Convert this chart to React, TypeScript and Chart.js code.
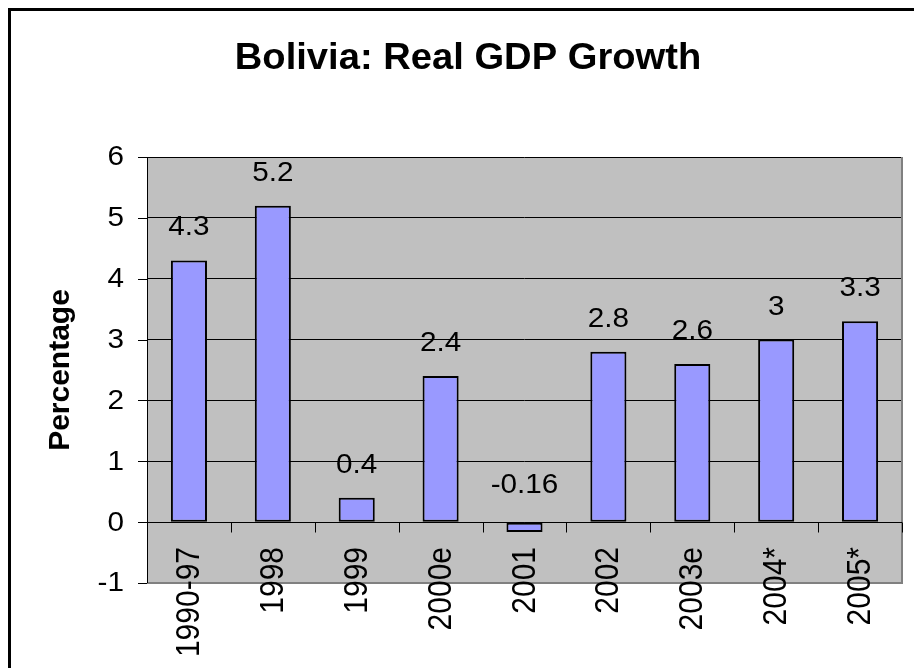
import React, { useEffect, useRef } from "react";
import { Chart, registerables } from "chart.js";

Chart.register(...registerables);

const chartTitle = "Bolivia: Real GDP Growth";
const yAxisTitle = "Percentage";
const categories = ["1990-97", "1998", "1999", "2000e", "2001", "2002", "2003e", "2004*", "2005*"];
const growth = [4.3, 5.2, 0.4, 2.4, -0.16, 2.8, 2.6, 3, 3.3];
const yTickValues = [-1, 0, 1, 2, 3, 4, 5, 6];

const FONT = '"Liberation Sans", Arial, Helvetica, sans-serif';

function textAt(
  ctx: CanvasRenderingContext2D,
  txt: string,
  x: number,
  y: number,
  font: string,
  align: CanvasTextAlign,
  baseline: CanvasTextBaseline,
  sx: number,
  rot: number
) {
  ctx.save();
  ctx.translate(x, y);
  ctx.scale(sx, 1);
  if (rot) ctx.rotate(rot);
  ctx.font = font;
  ctx.textAlign = align;
  ctx.textBaseline = baseline;
  ctx.fillStyle = "#000";
  ctx.fillText(txt, 0, 0);
  ctx.restore();
}

const decorPlugin = {
  id: "decor",
  beforeDraw(chart: any) {
    const { ctx, chartArea: a, width, height } = chart;
    ctx.save();
    ctx.fillStyle = "#fff";
    ctx.fillRect(0, 0, width, height);
    ctx.fillStyle = "#000";
    ctx.fillRect(8, 8, width, 3);
    ctx.fillRect(8, 8, 3, height);
    ctx.fillStyle = "#C0C0C0";
    ctx.fillRect(a.left, a.top, a.right - a.left, a.bottom - a.top);
    ctx.restore();
  },
  beforeDatasetsDraw(chart: any) {
    const { ctx, chartArea: a } = chart;
    const y = chart.scales.y;
    const x = chart.scales.x;
    ctx.save();
    // gray plot border (right, bottom)
    ctx.strokeStyle = "#808080";
    ctx.lineWidth = 2;
    ctx.beginPath();
    ctx.moveTo(a.left, a.bottom);
    ctx.lineTo(a.right, a.bottom);
    ctx.lineTo(a.right, a.top);
    ctx.stroke();
    // value axis
    ctx.strokeStyle = "#000";
    ctx.lineWidth = 1;
    ctx.beginPath();
    ctx.moveTo(a.left + 0.5, a.top);
    ctx.lineTo(a.left + 0.5, a.bottom);
    for (const v of yTickValues) {
      const py = Math.round(y.getPixelForValue(v)) + 0.5;
      ctx.moveTo(a.left - 9, py);
      ctx.lineTo(a.left, py);
    }
    // category axis at zero
    const zy = Math.round(y.getPixelForValue(0)) + 0.5;
    ctx.moveTo(a.left, zy);
    ctx.lineTo(a.right, zy);
    const n = categories.length;
    const step = (a.right - a.left) / n;
    for (let i = 0; i <= n; i++) {
      const px = Math.round(a.left + i * step) + 0.5;
      ctx.moveTo(px, zy);
      ctx.lineTo(px, zy + 10);
    }
    ctx.stroke();
    ctx.restore();
  },
  afterDraw(chart: any) {
    const { ctx, chartArea: a } = chart;
    const y = chart.scales.y;
    const x = chart.scales.x;
    // title
    textAt(ctx, chartTitle, 468, 69, `bold 36px ${FONT}`, "center", "alphabetic", 1.06, 0);
    // y axis title
    textAt(ctx, yAxisTitle, 61, (a.top + a.bottom) / 2, `bold 30px ${FONT}`, "center", "middle", 1.0, -Math.PI / 2);
    // y tick labels
    for (const v of yTickValues) {
      textAt(ctx, String(v), 124, y.getPixelForValue(v) + 1, `27px ${FONT}`, "right", "middle", 1.1, 0);
    }
    const zy = y.getPixelForValue(0);
    categories.forEach((c, i) => {
      const cx = x.getPixelForValue(i);
      // category label
      textAt(ctx, c, cx + 1, 547, `30px ${FONT}`, "right", "middle", 1.1, -Math.PI / 2);
      // data label
      const v = growth[i];
      const top = v >= 0 ? y.getPixelForValue(v) : zy;
      const off = v >= 0 ? 25 : 29;
      textAt(ctx, String(v), cx, top - off, `27px ${FONT}`, "center", "alphabetic", 1.1, 0);
    });
  },
};

export default function App() {
  const ref = useRef<HTMLCanvasElement | null>(null);
  useEffect(() => {
    document.body.style.margin = "0";
    const canvas = ref.current!;
    const chart = new Chart(canvas, {
      type: "bar",
      data: {
        labels: categories,
        datasets: [
          {
            data: growth,
            backgroundColor: "#9999FF",
            borderColor: "#000",
            borderWidth: 2,
            borderSkipped: false,
            categoryPercentage: 1,
            barPercentage: 0.43,
          },
        ],
      },
      options: {
        animation: false,
        responsive: false,
        devicePixelRatio: 1,
        layout: { padding: { left: 0, top: 157, right: 12, bottom: 85 } },
        plugins: { legend: { display: false }, tooltip: { enabled: false }, title: { display: false } },
        scales: {
          x: {
            ticks: { display: false },
            grid: { display: false },
            border: { display: false },
            afterFit: (s: any) => {
              s.height = 0;
            },
          },
          y: {
            min: -1,
            max: 6,
            ticks: { display: false, stepSize: 1 },
            grid: { color: "#000", lineWidth: 1, drawTicks: false },
            border: { display: false },
            afterFit: (s: any) => {
              s.width = 147;
            },
          },
        },
      },
      plugins: [decorPlugin],
    });
    return () => chart.destroy();
  }, []);
  return (
    <div style={{ width: 914, height: 668, overflow: "hidden" }}>
      <canvas ref={ref} width={914} height={668} style={{ display: "block", width: 914, height: 668 }} />
    </div>
  );
}
